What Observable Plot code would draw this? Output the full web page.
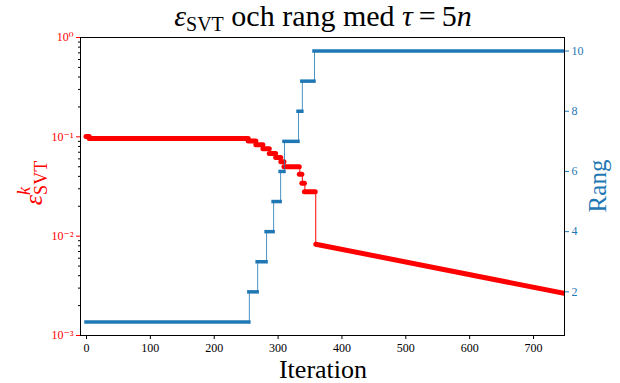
<!DOCTYPE html>
<html>
<head>
<meta charset="utf-8">
<script src="https://cdn.jsdelivr.net/npm/d3@7"></script>
<script src="https://cdn.jsdelivr.net/npm/@observablehq/plot@0.6"></script>
<style>
  body { margin: 0; background: #fff; }
  #wrap { position: relative; width: 620px; height: 383px; overflow: hidden; }
  #wrap svg { position: absolute; left: 0; top: 0; }
  #wrap svg text { font-family: 'Liberation Serif', 'DejaVu Serif', serif; }
</style>
</head>
<body>
<div id="wrap"></div>
<script>
// ---- data ----
const iterTicks = [0, 100, 200, 300, 400, 500, 600, 700];
const epsTicks = [1e-3, 1e-2, 1e-1, 1];
const epsTickLabels = ["10\u207B\u00B3", "10\u207B\u00B2", "10\u207B\u00B9", "10\u2070"];
const rankTicks = [2, 4, 6, 8, 10];

// eps_SVT step segments (iteration start, end, value)
const epsStart = [0, 5, 254, 266, 277, 287, 297, 305, 310, 334, 338, 342];
const epsEnd   = [5, 254, 266, 277, 287, 297, 305, 310, 334, 338, 342, 359];
const epsValue = [0.101, 0.096, 0.091, 0.083, 0.076, 0.068, 0.062, 0.056, 0.050, 0.042, 0.034, 0.028];
// eps_SVT decaying tail
const epsTailIter  = [359, 748];
const epsTailValue = [0.0083, 0.00266];

// rank step segments
const rankStart = [0, 255, 268, 282, 293, 304, 310, 332, 338, 357];
const rankEnd   = [255, 268, 282, 293, 304, 310, 332, 338, 357, 748];
const rankValue = [1, 2, 3, 4, 5, 6, 7, 8, 9, 10];

// ---- tables ----
const epsSegs = epsStart.map((s, i) => ({start: s, end: epsEnd[i], value: epsValue[i]}));
const epsTail = epsTailIter.map((t, i) => ({iter: t, value: epsTailValue[i]}));
const epsPts = epsSegs.map(d => ({iter: d.start, value: d.value})).concat([epsTail[0]]);
const rankSegs = rankStart.map((s, i) => ({start: s, end: rankEnd[i], value: rankValue[i]}));
const rankPts = rankSegs.map(d => ({iter: d.start, value: d.value}))
  .concat([{iter: rankEnd[rankEnd.length - 1], value: rankValue[rankValue.length - 1]}]);

const epsMinor = [];
for (let e = -3; e < 0; e++) for (let k = 2; k <= 9; k++) epsMinor.push(k * Math.pow(10, e));

const RED = "#ff0000";
const BLUE = "#1f77b4";
const FONT = "Liberation Serif";

const common = {
  width: 620, height: 383,
  marginTop: 37, marginBottom: 48, marginLeft: 80, marginRight: 56
};
const xDomain = [-9.4, 748.5];

const plotA = Plot.plot({
  ...common,
  style: {background: "white", fontSize: "12px", color: "black"},
  x: {domain: xDomain},
  y: {type: "log", domain: [1e-3, 1]},
  marks: [
    Plot.frame({stroke: "black", strokeWidth: 1}),
    Plot.axisX({ticks: iterTicks, tickSize: 4, tickPadding: 4, fontSize: 12, fontFamily: FONT, label: null, tickFormat: d => String(d)}),
    Plot.axisY({ticks: epsMinor, tickSize: 2, tickFormat: () => "", label: null}),
    Plot.axisY({ticks: epsTicks, tickSize: 4, tickPadding: 3, color: RED, fontSize: 12, fontFamily: FONT, label: null,
      tickFormat: d => epsTickLabels[epsTicks.indexOf(d)]}),
    Plot.line(epsPts, {x: "iter", y: "value", curve: "step-after", stroke: RED, strokeWidth: 1}),
    Plot.ruleY(epsSegs, {x1: "start", x2: "end", y: "value", stroke: RED, strokeWidth: 5, strokeLinecap: "round"}),
    Plot.line(epsTail, {x: "iter", y: "value", stroke: RED, strokeWidth: 5, strokeLinecap: "round", clip: true})
  ]
});

const plotB = Plot.plot({
  ...common,
  style: {background: "transparent", fontSize: "12px"},
  x: {domain: xDomain, axis: null},
  y: {domain: [0.55, 10.45]},
  marks: [
    Plot.axisY({anchor: "right", ticks: rankTicks, tickSize: 4, tickPadding: 3, color: BLUE, fontSize: 12, fontFamily: FONT, label: null}),
    Plot.line(rankPts, {x: "iter", y: "value", curve: "step-after", stroke: BLUE, strokeWidth: 1, strokeOpacity: 0.8}),
    Plot.ruleY(rankSegs, {x1: "start", x2: "end", y: "value", stroke: BLUE, strokeWidth: 3.5, strokeLinecap: "square", clip: true})
  ]
});

const wrap = document.getElementById("wrap");
wrap.appendChild(plotA);
wrap.appendChild(plotB);

// ---- text: title and axis labels ----
const svg = d3.select(plotB);
const t = svg.append("text")
  .attr("x", 323).attr("y", 26)
  .attr("text-anchor", "middle")
  .attr("font-family", FONT).attr("font-size", 30).attr("fill", "black")
  .style("white-space", "pre");
t.append("tspan").attr("font-style", "italic").text("\u03B5");
t.append("tspan").attr("font-size", 20).attr("dy", 5).text("SVT");
t.append("tspan").attr("dy", -5).text(" och rang med ");
t.append("tspan").attr("font-style", "italic").text("\u03C4");
t.append("tspan").text("\u2009=\u20095");
t.append("tspan").attr("font-style", "italic").text("n");

svg.append("text")
  .attr("x", 323).attr("y", 378)
  .attr("text-anchor", "middle")
  .attr("font-family", FONT).attr("font-size", 26).attr("fill", "black")
  .text("Iteration");

svg.append("text")
  .attr("transform", "translate(606,186) rotate(-90)")
  .attr("text-anchor", "middle")
  .attr("font-family", FONT).attr("font-size", 25).attr("fill", BLUE)
  .text("Rang");

const yl = svg.append("text")
  .attr("transform", "translate(42,183) rotate(-90)")
  .attr("text-anchor", "middle")
  .attr("font-family", FONT).attr("font-size", 26).attr("fill", RED)
  .style("white-space", "pre");
yl.append("tspan").attr("font-style", "italic").text("\u03B5");
yl.append("tspan").attr("font-style", "italic").attr("font-size", 18).attr("dy", -12).text("k");
yl.append("tspan").attr("font-size", 18).attr("dx", -8).attr("dy", 17).text("SVT");
</script>
</body>
</html>
